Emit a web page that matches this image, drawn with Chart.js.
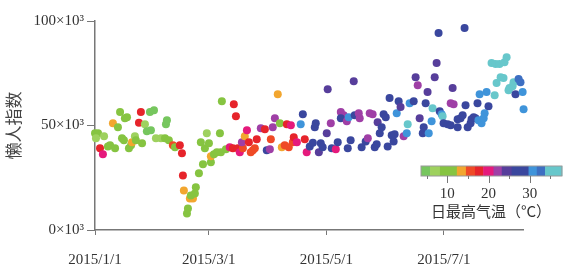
<!DOCTYPE html>
<html>
<head>
<meta charset="utf-8">
<script src="https://cdn.jsdelivr.net/npm/chart.js@4.4.1/dist/chart.umd.min.js"></script>
<style>
    html, body { margin: 0; padding: 0; background: #fff; }
    #wrap { width: 566px; height: 267px; }
</style>
</head>
<body>
<div id="wrap"><canvas id="chart" width="566" height="267"></canvas></div>
<script>
// -- DATA --
// days since 2015/1/1
const days = [
    0, 1.6, 0.5, 4.7, 2.6, 4.1, 6.7, 7.8, 10.4, 9.3, 11.9, 13.0, 15.5, 16.6, 14.0, 15.0, 17.6, 18.7, 19.2, 20.7,
    21.2, 22.8, 23.8, 24.4, 25.9, 26.9, 29.0, 28.5, 30.6, 31.6, 34.2, 36.3, 36.8, 37.3, 38.3, 40.4, 41.5, 44.0, 45.1, 45.6,
    46.1, 49.2, 50.8, 48.2, 47.7, 49.7, 51.8, 52.3, 53.9, 56.0, 60.1, 60.1, 61.7, 63.2, 65.3, 67.9, 54.9, 57.0, 59.1, 58.0,
    64.8, 65.8, 72.0, 73.1, 69.9, 71.5, 74.1, 75.1, 76.7, 76.2, 77.7, 78.8, 79.8, 81.9, 80.8, 82.9, 83.9, 86.0, 88.1, 89.1,
    90.7, 91.2, 92.2, 93.3, 94.8, 95.9, 96.9, 98.4, 99.5, 100.5, 101.6, 102.6, 103.1, 104.7, 106.7, 107.8, 108.8, 109.8, 111.4, 113.0,
    114.0, 114.5, 116.1, 117.1, 118.1, 120.2, 120.7, 122.3, 122.8, 124.9, 125.9, 127.5, 129.0, 127.5, 130.6, 131.6, 131.1, 132.6, 134.2, 134.7,
    136.8, 137.3, 138.3, 140.4, 141.5, 142.5, 144.0, 145.1, 146.1, 146.6, 147.7, 148.7, 149.7, 150.8, 151.8, 152.8, 153.9, 154.9, 155.4, 156.5,
    157.5, 158.5, 160.1, 161.7, 162.2, 163.2, 165.3, 166.3, 167.4, 168.4, 170.0, 170.5, 171.5, 172.5, 173.1, 174.6, 175.1, 176.2, 177.2, 178.2,
    178.8, 179.8, 180.3, 180.8, 182.9, 184.5, 184.5, 185.5, 186.0, 188.1, 188.1, 189.6, 190.7, 191.7, 192.2, 193.3, 194.8, 195.3, 196.4, 197.4,
    198.4, 198.9, 199.5, 200.5, 201.6, 202.1, 203.1, 204.1, 205.7, 207.3, 207.8, 208.3, 209.8, 210.4, 211.9, 212.4, 213.5, 214.5, 215.0, 216.6,
    217.1, 218.1, 219.7, 220.7, 221.8, 222.3
];
// lazy index, in thousands
const indexValues = [
    46.3, 46.3, 43.9, 44.8, 39.1, 36.2, 40.0, 40.5, 39.1, 51.1, 49.2, 56.4, 53.5, 54.0, 43.9, 42.9, 39.1, 40.5, 42.0, 44.8,
    42.9, 51.3, 56.4, 41.5, 50.6, 47.2, 47.7, 56.4, 57.3, 43.9, 43.9, 43.9, 50.6, 52.5, 42.9, 40.5, 39.6, 40.5, 36.7, 26.1,
    18.9, 15.1, 15.1, 10.3, 7.9, 16.5, 17.5, 20.4, 27.1, 31.4, 32.4, 35.3, 36.2, 37.2, 37.2, 38.6, 42.0, 39.1, 41.5, 46.3,
    46.3, 61.6, 60.2, 54.4, 39.6, 39.1, 39.1, 37.2, 39.1, 42.0, 44.8, 47.7, 42.0, 38.1, 37.2, 39.1, 43.4, 48.7, 48.2, 38.1,
    38.6, 43.4, 49.2, 53.5, 65.0, 51.1, 39.6, 40.5, 50.6, 39.6, 50.1, 42.0, 44.4, 42.0, 50.6, 55.4, 43.4, 37.2, 40.0, 41.7,
    49.2, 51.1, 37.2, 41.5, 39.6, 46.3, 67.4, 51.1, 39.1, 38.6, 42.0, 56.4, 54.9, 53.5, 52.0, 54.0, 39.1, 42.9, 71.2, 54.9,
    55.9, 53.5, 39.6, 42.4, 43.9, 55.9, 55.4, 39.6, 41.0, 51.6, 46.3, 49.2, 55.4, 54.0, 40.0, 63.1, 45.3, 42.4, 45.8, 55.9,
    61.6, 58.8, 44.8, 46.3, 50.6, 60.7, 61.6, 73.1, 69.3, 53.5, 46.3, 49.2, 60.7, 66.0, 46.3, 52.0, 58.3, 73.1, 79.9, 94.2,
    56.8, 55.4, 54.4, 51.1, 50.6, 50.1, 60.7, 67.9, 60.2, 53.0, 49.2, 53.5, 54.9, 96.6, 59.7, 49.2, 51.1, 53.0, 54.0, 53.5,
    60.7, 52.5, 65.0, 51.1, 53.5, 55.9, 66.0, 59.2, 79.9, 64.5, 79.4, 70.3, 79.4, 73.1, 72.7, 80.3, 82.7, 66.9, 67.9, 68.8,
    70.7, 65.0, 72.2, 70.7, 66.0, 57.8
];
// daily max temperature (°C)
const maxTemps = [
    10, 10, 7, 7, 17.5, 20, 10, 10, 10, 13.5, 10, 10, 10, 10, 10, 10, 10, 10, 13.5, 7,
    10, 17.5, 17.5, 10, 7, 4.5, 4.5, 4.5, 4.5, 7, 7, 10, 4.5, 4.5, 10, 15.5, 10, 17.5, 17.5, 17.5,
    13.5, 13.5, 13.5, 10, 10, 10, 10, 10, 10, 10, 10, 13.5, 10, 10, 10, 10, 10, 10, 10, 7,
    10, 10, 17.5, 17.5, 20, 17.5, 17.5, 20, 15.5, 22, 13.5, 20, 17.5, 15.5, 15.5, 15.5, 17.5, 22, 17.5, 27.5,
    22, 15.5, 22, 22, 13.5, 10, 13.5, 15.5, 17.5, 15.5, 20, 15.5, 17.5, 20, 30.5, 26, 17.5, 20, 27.5, 27.5,
    27.5, 27.5, 24.5, 27.5, 27.5, 24.5, 24.5, 22, 27.5, 20, 27.5, 22, 22, 27.5, 22, 30.5, 27.5, 27.5, 24.5, 27.5,
    22, 22, 27.5, 26, 22, 22, 22, 27.5, 27.5, 24.5, 27.5, 27.5, 27.5, 27.5, 27.5, 27.5, 27.5, 27.5, 27.5, 30.5,
    27.5, 24.5, 22, 30.5, 34, 30.5, 27.5, 24.5, 22, 24.5, 27.5, 27.5, 27.5, 24.5, 30.5, 30.5, 34, 24.5, 24.5, 26,
    27.5, 30.5, 34, 27.5, 27.5, 27.5, 22, 24.5, 22, 27.5, 27.5, 27.5, 27.5, 26, 27.5, 29, 27.5, 27.5, 27.5, 27.5,
    27.5, 30.5, 30.5, 30.5, 30.5, 30.5, 30.5, 27.5, 35, 35, 35, 35, 35, 35, 35, 35, 35, 35, 35, 35,
    35, 27.5, 32.5, 32.5, 30.5, 30.5
];

const xTickDays = [0, 59, 120, 181];
const xTickLabels = ['2015/1/1', '2015/3/1', '2015/5/1', '2015/7/1'];
const yTicks = [0, 50, 100];
const colorBarTicks = [10, 20, 30];

// colour classes of the temperature bar
const tempEdges = [3.6, 5.8, 8.2, 12.3, 14.5, 16.7, 18.7, 21.2, 23.2, 25.6, 29.7, 31.7, 33.7, 37.8];
const tempColors = ['#76c65e', '#9ed15e', '#86c441', '#f2a62f', '#ef4a26', '#e6242b', '#e51a7c',
    '#9f3fa6', '#573e9b', '#3a479e', '#3f94da', '#3d6fc2', '#67c7cb'];

const serif = '"Liberation Serif", "DejaVu Serif", serif';
const cjk = '"Noto Sans CJK SC", sans-serif';

function tempColor(t) {
    for (let i = 0; i < tempColors.length; i++) {
        if (t < tempEdges[i + 1]) return tempColors[i];
    }
    return tempColors[tempColors.length - 1];
}

// -- COLOUR BAR --
const colorBarPlugin = {
    id: 'colorBar',
    afterDraw(chart) {
        const ctx = chart.ctx;
        const left = 421, top = 166, h = 10, pxPerDeg = 4.12;
        const tx = t => left + (t - tempEdges[0]) * pxPerDeg;

        for (let i = 0; i < tempColors.length; i++) {
            ctx.fillStyle = tempColors[i];
            ctx.fillRect(tx(tempEdges[i]), top, tx(tempEdges[i + 1]) - tx(tempEdges[i]) + 0.5, h);
        }
        ctx.strokeStyle = '#999';
        ctx.lineWidth = 1;
        ctx.strokeRect(tx(tempEdges[0]), top, tx(tempEdges[tempEdges.length - 1]) - tx(tempEdges[0]), h);

        // ticks every 5 degrees, labelled every 10
        ctx.strokeStyle = '#777';
        for (let t = 5; t <= 35; t += 5) {
            const major = colorBarTicks.includes(t);
            ctx.beginPath();
            ctx.moveTo(Math.round(tx(t)) + 0.5, top + h);
            ctx.lineTo(Math.round(tx(t)) + 0.5, top + h + (major ? 7 : 3));
            ctx.stroke();
        }
        ctx.fillStyle = '#333';
        ctx.font = '15px ' + serif;
        ctx.textAlign = 'center';
        ctx.textBaseline = 'middle';
        colorBarTicks.forEach(t => ctx.fillText(String(t), tx(t), 194));

        ctx.font = '15px ' + cjk;
        ctx.fillText('日最高气温（°C）', 491, 211);
    }
};

// -- CHART --
new Chart(document.getElementById('chart'), {
    type: 'scatter',
    data: {
        datasets: [{
            data: days.map((d, i) => ({ x: d, y: indexValues[i] })),
            backgroundColor: maxTemps.map(tempColor),
            borderWidth: 0,
            pointRadius: 4,
            pointHoverRadius: 4,
            clip: false
        }]
    },
    options: {
        responsive: false,
        animation: false,
        devicePixelRatio: 1,
        layout: { padding: { left: 0, right: 43, top: 21, bottom: 0 } },
        plugins: { legend: { display: false }, tooltip: { enabled: false } },
        scales: {
            x: {
                type: 'linear',
                min: 0,
                max: 222,
                afterBuildTicks: s => { s.ticks = xTickDays.map(v => ({ value: v })); },
                afterFit: s => { s.height = 37; },
                grid: { drawOnChartArea: false, tickLength: 5, color: '#777' },
                border: { color: '#777', width: 1.5 },
                ticks: {
                    padding: 16,
                    autoSkip: false,
                    maxRotation: 0,
                    color: '#333',
                    font: { family: serif, size: 15 },
                    callback: v => xTickLabels[xTickDays.indexOf(v)]
                }
            },
            y: {
                min: 0,
                max: 100,
                afterBuildTicks: s => { s.ticks = yTicks.map(v => ({ value: v })); },
                afterFit: s => { s.width = 95; },
                grid: { drawOnChartArea: false, tickLength: 8, color: '#777' },
                border: { color: '#777', width: 1.5 },
                ticks: {
                    padding: 3,
                    color: '#333',
                    font: { family: serif, size: 15 },
                    callback: v => v + '×10³'
                },
                title: {
                    display: true,
                    text: '懒人指数',
                    color: '#444',
                    font: { family: cjk, size: 17 },
                    padding: { top: 3, bottom: 0 }
                }
            }
        }
    },
    plugins: [colorBarPlugin]
});
</script>
</body>
</html>
